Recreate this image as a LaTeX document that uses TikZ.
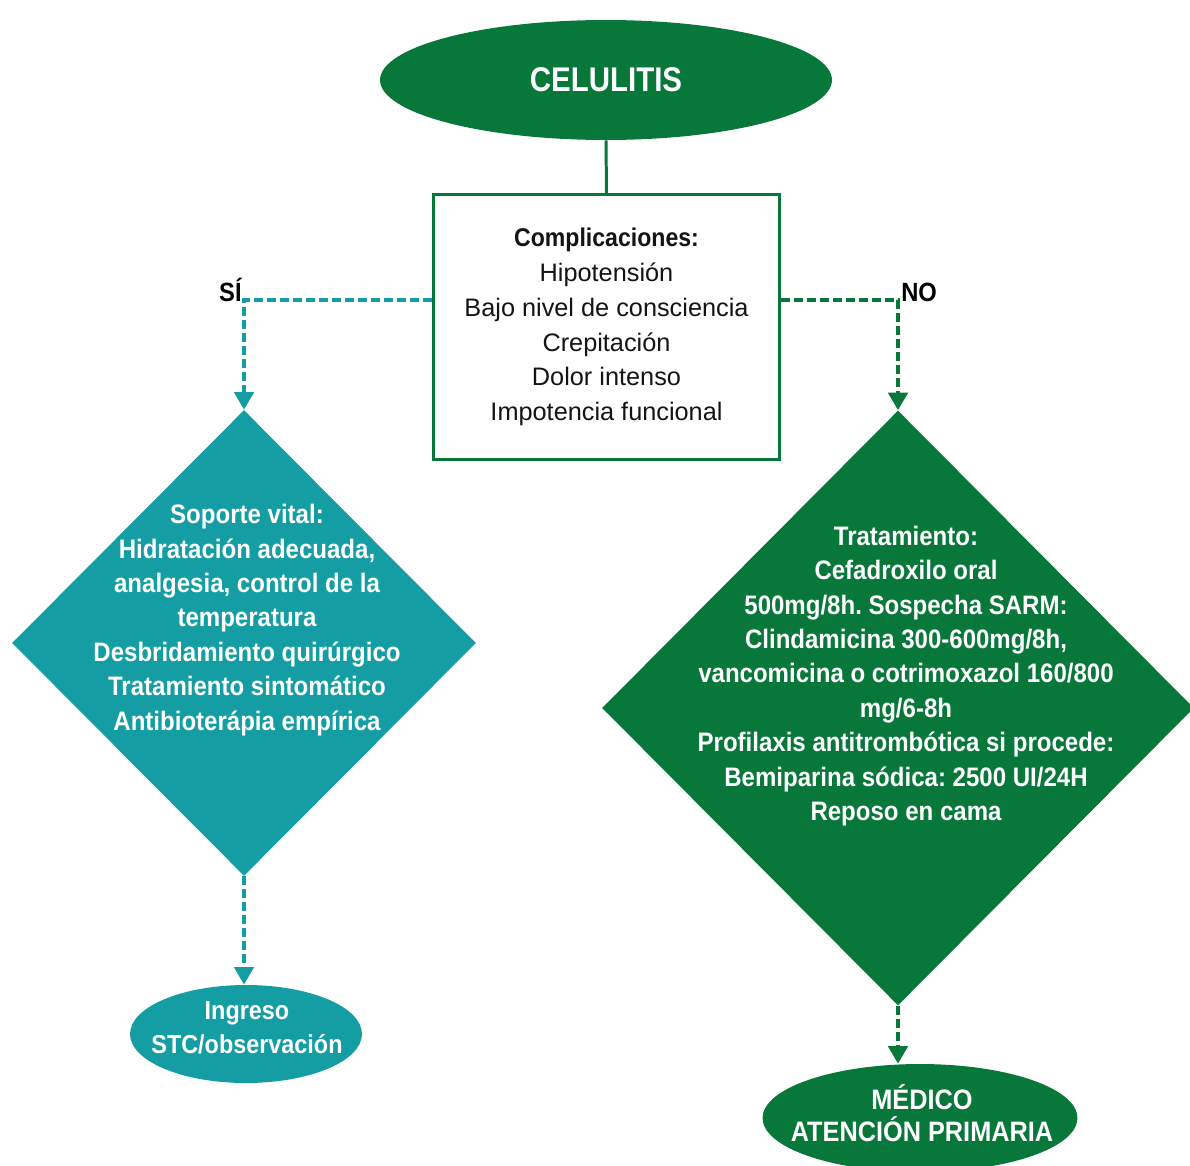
\documentclass[tikz,border=0pt]{standalone}
\usepackage{fontspec}
\setmainfont{Liberation Sans}
\newfontfamily\cb[FakeStretch=0.9]{Liberation Sans}
\newfontfamily\cbn[FakeStretch=0.86]{Liberation Sans}
\usetikzlibrary{shapes.geometric,arrows.meta}
\definecolor{dkgreen}{RGB}{8,120,58}
\definecolor{cyanteal}{RGB}{20,158,163}
\frenchspacing
\begin{document}
\begin{tikzpicture}[x=0.02cm, y=-0.02cm,
  >={Triangle[width=11pt,length=10pt]},
  oval/.style={ellipse, inner sep=0pt},
  lozenge/.style={diamond, inner sep=0pt},
  link/.style={line width=2.1pt, dash pattern=on 5.1pt off 2.3pt, ->},
  caption/.style={font=\cb\bfseries\fontsize{15pt}{17pt}\selectfont, text=black, inner sep=0pt},
  bodytext/.style={align=center, text=white, inner sep=0pt,
    font=\cb\bfseries\fontsize{15.2pt}{19.6pt}\selectfont}
]
\useasboundingbox (0,0) rectangle (1190,1166);

% start node
\node[oval, fill=dkgreen, minimum width=9.04cm, minimum height=2.4cm,
  text=white, font=\cbn\bfseries\fontsize{19.5pt}{22pt}\selectfont] (cel) at (606,80) {CELULITIS};

% complications box
\node[draw=dkgreen, line width=1.7pt, fill=white, minimum width=6.92cm, minimum height=5.3cm,
  align=center, text=black!92, font=\fontsize{14.4pt}{19.85pt}\selectfont] (comp) at (606.5,327)
  {{\cb\bfseries\fontsize{14.6pt}{19.85pt}\selectfont Complicaciones:}\\Hipotensión\\Bajo nivel de consciencia\\Crepitación\\Dolor intenso\\Impotencia funcional};
\draw[dkgreen, line width=1.7pt] (cel.south) -- (comp.north);

% branch corners
\coordinate (si) at (244,300);
\coordinate (no) at (898,300);

% left branch: complications present
\node[lozenge, fill=cyanteal, minimum width=9.28cm, minimum height=9.32cm] (sv) at (244,643) {};
\node[bodytext] (svtxt) at (247,620) {Soporte vital:\\Hidratación adecuada,\\analgesia, control de la\\temperatura\\Desbridamiento quirúrgico\\Tratamiento sintomático\\Antibioterápia empírica};
\draw[link, cyanteal] (comp.west |- si) -- (si) -- (sv.north);
\node[caption, anchor=base east] (silbl) at (242,301) {SÍ};

% right branch: no complications
\node[lozenge, fill=dkgreen, minimum width=11.84cm, minimum height=11.9cm] (tr) at (898,708) {};
\node[bodytext] (trtxt) at (906,676) {Tratamiento:\\Cefadroxilo oral\\500mg/8h. Sospecha SARM:\\Clindamicina 300-600mg/8h,\\vancomicina o cotrimoxazol 160/800\\mg/6-8h\\Profilaxis antitrombótica si procede:\\Bemiparina sódica: 2500 UI/24H\\Reposo en cama};
\draw[link, dkgreen] (comp.east |- no) -- (no) -- (tr.north);
\node[caption, anchor=base west] (nolbl) at (901,301) {NO};

% outcomes
\node[oval, fill=cyanteal, minimum width=4.64cm, minimum height=1.96cm] (ing) at (246,1034) {};
\node[bodytext, font=\cb\bfseries\fontsize{14.8pt}{19.3pt}\selectfont] (ingtxt) at (247,1028) {Ingreso\\STC/observación};
\draw[link, cyanteal] (sv.south) -- (sv.south |- ing.north);

\node[oval, fill=dkgreen, minimum width=6.3cm, minimum height=2.16cm] (med) at (920,1118) {};
\node[bodytext, font=\cb\bfseries\fontsize{16pt}{18.1pt}\selectfont] (medtxt) at (922,1113) {MÉDICO\\ATENCIÓN PRIMARIA};
\draw[link, dkgreen] (tr.south) -- (tr.south |- med.north);
\end{tikzpicture}
\end{document}
